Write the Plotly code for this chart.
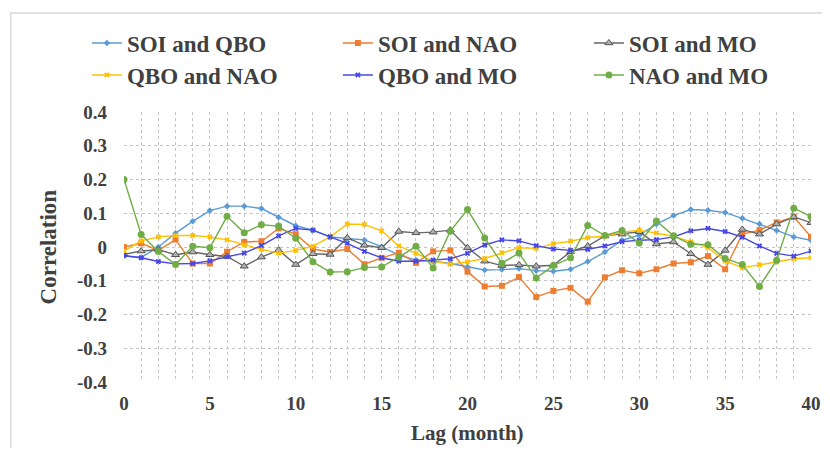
import plotly.graph_objects as go

lags = list(range(0, 41))

soi_qbo = [-0.027, -0.031, 0.0, 0.041, 0.076, 0.108, 0.121, 0.121, 0.114, 0.088,
           0.063, 0.05, 0.03, 0.025, 0.021, 0.001, -0.024, -0.039, -0.042, -0.049,
           -0.059, -0.068, -0.067, -0.064, -0.07, -0.072, -0.066, -0.043, -0.015, 0.02,
           0.035, 0.068, 0.093, 0.111, 0.109, 0.102, 0.085, 0.068, 0.049, 0.03, 0.02]
soi_nao = [0.0, 0.011, -0.01, 0.022, -0.049, -0.049, -0.014, 0.015, 0.017, 0.055,
           0.038, -0.006, -0.015, -0.006, -0.051, -0.032, -0.017, -0.047, -0.013, -0.01,
           -0.073, -0.117, -0.115, -0.089, -0.148, -0.13, -0.121, -0.162, -0.09, -0.069,
           -0.078, -0.066, -0.049, -0.045, -0.027, -0.066, 0.038, 0.05, 0.073, 0.089, 0.03]
soi_mo = [-0.022, -0.012, -0.008, -0.023, -0.015, -0.023, -0.028, -0.057, -0.03, -0.009,
          -0.052, -0.02, -0.022, 0.027, 0.005, -0.002, 0.046, 0.042, 0.044, 0.05,
          -0.002, -0.042, -0.055, -0.053, -0.057, -0.054, -0.014, 0.003, 0.033, 0.038,
          0.045, 0.009, 0.015, -0.02, -0.052, -0.01, 0.052, 0.038, 0.068, 0.089, 0.072]
qbo_nao = [-0.012, 0.018, 0.03, 0.034, 0.034, 0.03, 0.021, 0.006, -0.007, -0.018,
           -0.01, 0.002, 0.03, 0.068, 0.067, 0.048, 0.003, -0.019, -0.042, -0.051,
           -0.044, -0.034, -0.017, -0.002, -0.004, 0.01, 0.017, 0.028, 0.032, 0.044,
           0.05, 0.042, 0.032, 0.015, -0.002, -0.041, -0.061, -0.053, -0.045, -0.035, -0.032]
qbo_mo = [-0.025, -0.032, -0.043, -0.05, -0.049, -0.041, -0.029, -0.018, 0.004, 0.033,
          0.055, 0.05, 0.03, 0.011, -0.013, -0.032, -0.042, -0.042, -0.039, -0.035,
          -0.019, 0.006, 0.021, 0.018, 0.004, -0.006, -0.01, -0.007, 0.003, 0.016,
          0.02, 0.022, 0.03, 0.048, 0.055, 0.046, 0.029, 0.003, -0.019, -0.027, -0.012]
nao_mo = [0.2, 0.037, -0.013, -0.052, 0.002, -0.002, 0.091, 0.042, 0.066, 0.062,
          0.026, -0.044, -0.074, -0.073, -0.061, -0.059, -0.03, 0.002, -0.062, 0.047,
          0.111, 0.027, -0.048, -0.018, -0.092, -0.055, -0.032, 0.064, 0.034, 0.049,
          0.012, 0.077, 0.033, 0.008, 0.007, -0.034, -0.052, -0.117, -0.039, 0.115, 0.09]

y_ticks = [0.4, 0.3, 0.2, 0.1, 0, -0.1, -0.2, -0.3, -0.4]
y_tick_text = ["0.4", "0.3", "0.2", "0.1", "0", "-0.1", "-0.2", "-0.3", "-0.4"]
x_ticks = [0, 5, 10, 15, 20, 25, 30, 35, 40]

FONT = "Liberation Serif"
TXT = "#404040"

series = [
    ("SOI and QBO", soi_qbo, "#5B9BD5", dict(symbol="diamond", size=5), "legend"),
    ("SOI and NAO", soi_nao, "#ED7D31", dict(symbol="square", size=6), "legend"),
    ("SOI and MO", soi_mo, "#666666", dict(symbol="triangle-up", size=7, color="#b0b0b0",
                                          line=dict(color="#555555", width=1)), "legend"),
    ("QBO and NAO", qbo_nao, "#FFC000", dict(symbol="x", size=5), "legend2"),
    ("QBO and MO", qbo_mo, "#4747E6", dict(symbol="x", size=5), "legend2"),
    ("NAO and MO", nao_mo, "#70AD47", dict(symbol="circle", size=7), "legend2"),
]

fig = go.Figure()
for name, vals, color, marker, leg in series:
    m = dict(color=color)
    m.update(marker)
    fig.add_trace(go.Scatter(
        x=lags, y=vals, name=name, mode="lines+markers",
        line=dict(color=color, width=1.4), marker=m, legend=leg,
    ))

legend_common = dict(
    orientation="h", xanchor="left", yanchor="middle",
    font=dict(family=FONT, size=23, color=TXT, weight="bold"),
    bgcolor="rgba(0,0,0,0)", entrywidth=206, entrywidthmode="pixels",
    itemwidth=30,
)

fig.update_layout(
    width=814, height=440,
    margin=dict(l=116, r=11, t=104, b=66, autoexpand=False),
    paper_bgcolor="white", plot_bgcolor="white",
    showlegend=True,
    legend=dict(x=-0.054, y=1.2556, **legend_common),
    legend2=dict(x=-0.054, y=1.137, **legend_common),
    xaxis=dict(
        range=[0, 40], tickmode="array", tickvals=x_ticks,
        showgrid=True, gridcolor="#c4c4c4", griddash="dot", gridwidth=1,
        zeroline=False, showline=False, ticks="",
        tickfont=dict(family=FONT, size=19, color=TXT, weight="bold"),
        ticklabelstandoff=8, ticklabeloverflow="allow",
        minor=dict(dtick=1, showgrid=True, gridcolor="#c4c4c4", griddash="dot", gridwidth=1),
    ),
    yaxis=dict(
        range=[-0.4, 0.4], tickmode="array", tickvals=y_ticks, ticktext=y_tick_text,
        showgrid=True, gridcolor="#c4c4c4", griddash="dot", gridwidth=1,
        zeroline=False, showline=False, ticks="",
        tickfont=dict(family=FONT, size=19, color=TXT, weight="bold"),
        ticklabelstandoff=16,
    ),
    annotations=[
        dict(text="Correlation", xref="paper", yref="paper", x=-0.11, y=0.5,
             textangle=-90, showarrow=False, xanchor="center", yanchor="middle",
             font=dict(family=FONT, size=23, color=TXT, weight="bold")),
        dict(text="Lag (month)", xref="paper", yref="paper", x=0.5, y=-0.189,
             showarrow=False, xanchor="center", yanchor="middle",
             font=dict(family=FONT, size=21, color=TXT, weight="bold")),
    ],
    shapes=[
        dict(type="rect", xref="paper", yref="paper", x0=-0.165, x1=1.2, y0=-0.6, y1=1.367,
             line=dict(color="#d9d9d9", width=1.5), layer="below"),
    ],
)

fig.write_html("out.html")
